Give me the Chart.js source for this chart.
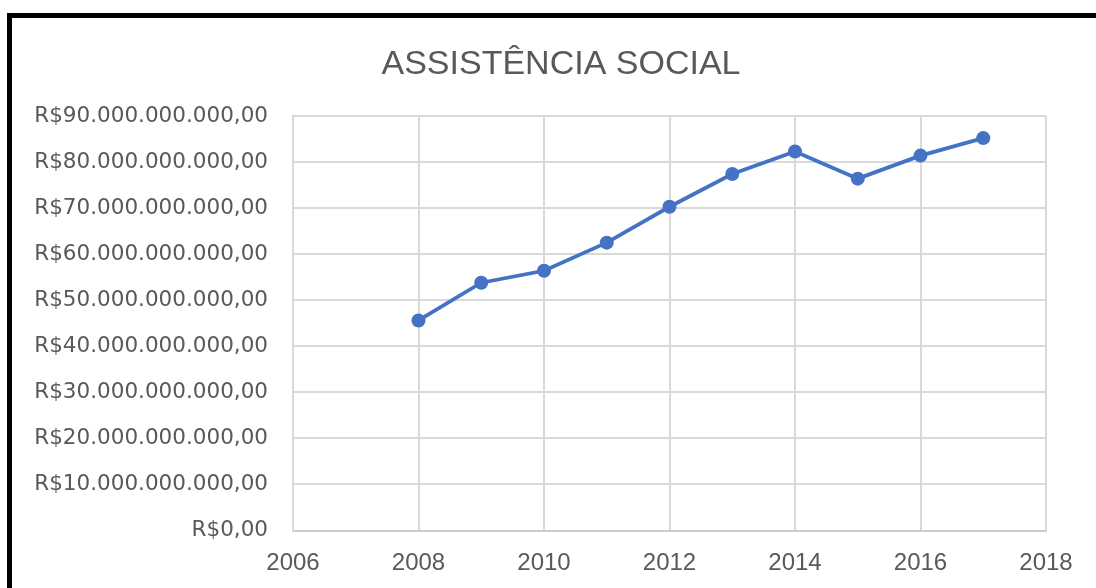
<!DOCTYPE html>
<html lang="pt-BR">
<head>
<meta charset="utf-8">
<title>Assistência Social</title>
<script src="https://cdn.jsdelivr.net/npm/chart.js@4.4.1/dist/chart.umd.min.js"></script>
<style>
  html, body { margin: 0; padding: 0; background: #ffffff; overflow: hidden; }
  #frame {
    position: absolute; left: 7px; top: 13px; width: 1200px; height: 700px;
    border-top: 5px solid #000; border-left: 5px solid #000; box-sizing: border-box;
  }
  #wrap { position: absolute; left: 0; top: 0; width: 1096px; height: 588px; }
</style>
</head>
<body>
<div id="frame"></div>
<div id="wrap"><canvas id="chart" width="1096" height="588"></canvas></div>
<script>
// Gastos federais com assistência social (R$), por ano
const years = [2008, 2009, 2010, 2011, 2012, 2013, 2014, 2015, 2016, 2017];
const spending = [45600000000, 53800000000, 56400000000, 62500000000, 70300000000,
                  77400000000, 82300000000, 76400000000, 81400000000, 85200000000];
const chartTitle = 'ASSISTÊNCIA SOCIAL';
const yMin = 0, yMax = 90000000000, yStep = 10000000000;
const xMin = 2006, xMax = 2018, xStep = 2;

// Formata no padrão brasileiro: R$90.000.000.000,00
function brl(v) {
  const intPart = Math.round(v).toString().replace(/\B(?=(\d{3})+(?!\d))/g, '.');
  return 'R$' + intPart + ',00';
}

const textColor = '#595959';
const gridColor = '#d9d9d9';
const lineColor = '#4472C4';

// Título centralizado sobre a área do gráfico
const titlePlugin = {
  id: 'centeredTitle',
  afterDraw(chart) {
    const { ctx, chartArea } = chart;
    ctx.save();
    ctx.fillStyle = textColor;
    ctx.font = '34px "Liberation Sans", Arial, sans-serif';
    ctx.textAlign = 'center';
    ctx.textBaseline = 'alphabetic';
    ctx.fillText(chartTitle, 561, chartArea.top - 42);
    ctx.restore();
  }
};

new Chart(document.getElementById('chart'), {
  type: 'line',
  data: {
    datasets: [{
      label: chartTitle,
      data: years.map((yr, i) => ({ x: yr, y: spending[i] })),
      borderColor: lineColor,
      backgroundColor: lineColor,
      borderWidth: 3.8,
      pointRadius: 7,
      pointHoverRadius: 7,
      pointBorderWidth: 0,
      pointBackgroundColor: lineColor,
      tension: 0
    }]
  },
  plugins: [titlePlugin],
  options: {
    responsive: false,
    animation: false,
    events: [],
    layout: { padding: { top: 116, left: 0, right: 50, bottom: 0 } },
    plugins: {
      legend: { display: false },
      tooltip: { enabled: false },
      title: { display: false }
    },
    scales: {
      x: {
        type: 'linear',
        min: xMin, max: xMax,
        afterFit(scale) { scale.height = 57.5; },
        ticks: {
          stepSize: xStep,
          color: textColor,
          padding: 18,
          maxRotation: 0,
          font: { family: '"Liberation Sans", Arial, sans-serif', size: 24 },
          callback: v => String(v)
        },
        grid: { color: gridColor, lineWidth: 2, drawTicks: false },
        border: { color: '#cccccc', width: 2 }
      },
      y: {
        min: yMin, max: yMax,
        afterFit(scale) { scale.width = 293; },
        ticks: {
          stepSize: yStep,
          color: textColor,
          padding: 25,
          font: { family: '"DejaVu Sans", sans-serif', size: 21.5 },
          callback: v => brl(v)
        },
        grid: { color: gridColor, lineWidth: 2, drawTicks: false },
        border: { color: gridColor, width: 2 }
      }
    }
  }
});
</script>
</body>
</html>
